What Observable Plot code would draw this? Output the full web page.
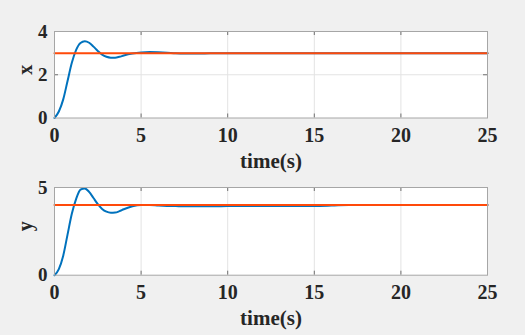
<!DOCTYPE html>
<html>
<head>
<meta charset="utf-8">
<script src="https://cdn.jsdelivr.net/npm/d3@7"></script>
<script src="https://cdn.jsdelivr.net/npm/@observablehq/plot@0.6"></script>
<style>
  html, body { margin: 0; padding: 0; background: #f0f0f0; }
  #chart { width: 525px; height: 335px; overflow: hidden; }
  #chart svg { display: block; background: transparent; }
</style>
</head>
<body>
<div id="chart"></div>
<script>
// time samples (s)
const time = [0, 0.25, 0.5, 0.75, 1, 1.25, 1.5, 1.75, 2, 2.25, 2.5, 2.75, 3, 3.25, 3.5, 3.75, 4, 4.5, 5, 5.5, 6, 6.5, 7, 7.5, 8, 9, 10, 12, 14, 15, 16, 17, 18, 20, 22, 25];
// response x
const xResp = [0, 0.3, 0.85, 1.7, 2.55, 3.15, 3.47, 3.55, 3.48, 3.3, 3.1, 2.93, 2.83, 2.79, 2.79, 2.83, 2.89, 2.98, 3.03, 3.05, 3.04, 3.02, 2.99, 2.98, 2.98, 2.99, 3.0, 3, 3, 3, 3, 3, 3, 3, 3, 3];
// response y
const yResp = [0, 0.35, 1.1, 2.3, 3.5, 4.35, 4.88, 4.95, 4.75, 4.4, 4.05, 3.78, 3.62, 3.56, 3.57, 3.65, 3.76, 3.93, 4.0, 4.0, 3.97, 3.95, 3.94, 3.93, 3.93, 3.93, 3.94, 3.95, 3.95, 3.95, 3.97, 4.0, 4, 4, 4, 4];
// reference values
const xRef = 3;
const yRef = 4;
const refSpan = [0, 25];
// ticks
const xTicks = [0, 5, 10, 15, 20, 25];
const xGridTicks = [5, 10, 15, 20];
const topYTicks = [0, 2, 4];
const topYGrid = [2];
const botYTicks = [0, 5];

const BLUE = "#0072BD";
const RED = "#FF4A0A";
const FRAME = "#a6a6a6";
const TICK = "#707070";
const GRID = "#e3e3e3";
const FONT = "'Liberation Serif', 'Times New Roman', serif";

function panel({height, marginTop, marginBottom, yDomain, yTicks, yGrid, resp, ref, ylabel}) {
  const mL = 54, mR = 38;
  const plotH = height - marginTop - marginBottom;
  const resData = time.map((t, i) => ({t, v: resp[i]}));
  const refData = refSpan.map(t => ({t, v: ref}));
  return Plot.plot({
    width: 525,
    height,
    marginLeft: mL,
    marginRight: mR,
    marginTop,
    marginBottom,
    style: {background: "transparent", fontFamily: FONT, overflow: "visible"},
    x: {domain: [0, 25]},
    y: {domain: yDomain},
    marks: [
      Plot.frame({fill: "white", stroke: "none"}),
      Plot.gridX(xGridTicks, {stroke: GRID, strokeOpacity: 1, strokeWidth: 1}),
      Plot.gridY(yGrid, {stroke: GRID, strokeOpacity: 1, strokeWidth: 1}),
      // inward tick marks (bottom, top, left, right)
      Plot.gridX(xGridTicks, {stroke: TICK, strokeOpacity: 1, insetTop: plotH - 4}),
      Plot.gridX(xGridTicks, {stroke: TICK, strokeOpacity: 1, insetBottom: plotH - 4}),
      Plot.gridY(yGrid, {stroke: TICK, strokeOpacity: 1, insetRight: 525 - mL - mR - 4}),
      Plot.gridY(yGrid, {stroke: TICK, strokeOpacity: 1, insetLeft: 525 - mL - mR - 4}),
      Plot.line(resData, {x: "t", y: "v", stroke: BLUE, strokeWidth: 2, curve: "monotone-x"}),
      Plot.line(refData, {x: "t", y: "v", stroke: RED, strokeWidth: 2}),
      Plot.frame({stroke: FRAME, strokeWidth: 1}),
      Plot.axisX(xTicks, {tickSize: 0, tickPadding: 10, fontSize: 20, fontWeight: "bold", fill: "#262626", label: null}),
      Plot.axisY(yTicks, {tickSize: 0, tickPadding: 7, fontSize: 19, fontWeight: "bold", fill: "#262626", label: null}),
      Plot.text(["time(s)"], {frameAnchor: "bottom", text: d => d, dy: 49.5, lineAnchor: "bottom", fontSize: 21, fontWeight: "bold", fill: "#262626"}),
      Plot.text([ylabel], {frameAnchor: "left", text: d => d, dx: -29, rotate: -90, lineAnchor: "middle", fontSize: 20, fontWeight: "bold", fill: "#262626"})
    ]
  });
}

const chart = document.getElementById("chart");
chart.append(panel({height: 168, marginTop: 31, marginBottom: 50.5, yDomain: [0, 4], yTicks: topYTicks, yGrid: topYGrid, resp: xResp, ref: xRef, ylabel: "x"}));
chart.append(panel({height: 167, marginTop: 19, marginBottom: 60.3, yDomain: [0, 5], yTicks: botYTicks, yGrid: [], resp: yResp, ref: yRef, ylabel: "y"}));
</script>
</body>
</html>
